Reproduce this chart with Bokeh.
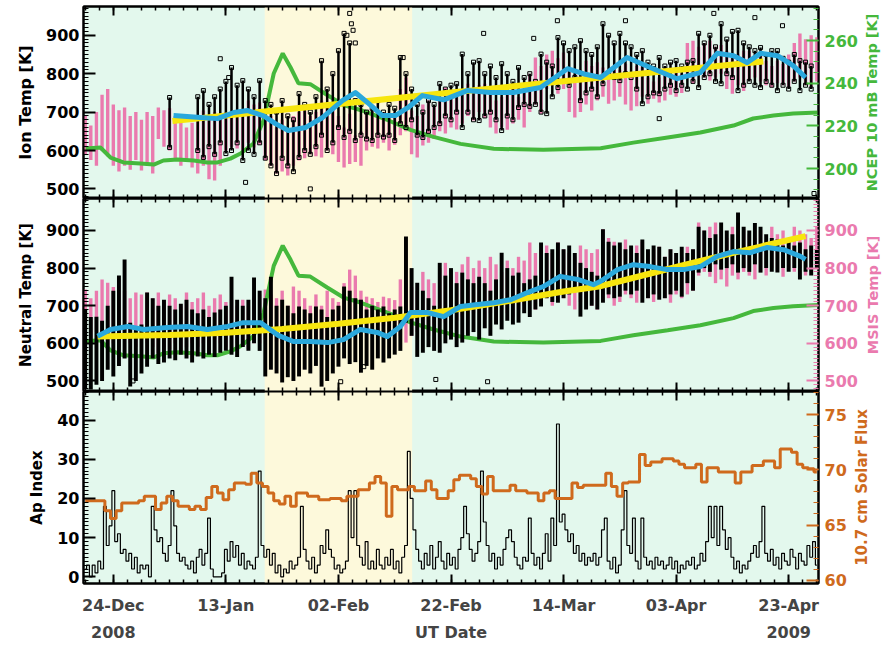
import numpy as np
from bokeh.plotting import figure
from bokeh.models import (Range1d, LinearAxis, FixedTicker, SingleIntervalTicker,
                          BoxAnnotation)
from bokeh.layouts import column, row
from bokeh.embed import file_html
from bokeh.resources import INLINE

# ---------------- data (x = days since 24-Dec-2008) ----------------
days = list(range(-5, 126))
tick_days = [0, 20, 40, 60, 80, 100, 120]
tick_labels = ["24-Dec", "13-Jan", "02-Feb", "22-Feb", "14-Mar", "03-Apr", "23-Apr"]
bottom_text_days = [0, 60, 120]
bottom_texts = ["2008", "UT Date", "2009"]
campaign_start, campaign_end = 26.9, 53.1

N = None
# Panel 1: modelled ion temperature (pink), daily range
ion_model_lo = [590,575,560,600,585,560,545,560,550,575,
                548,560,540,630,610,600,580,560,570,556,
                540,560,525,522,560,600,610,605,600,620,
                608,615,575,560,540,545,535,560,574,580,
                590,585,582,600,590,570,556,565,570,560,
                600,610,605,620,600,615,640,650,590,582,
                613,620,630,650,644,660,655,670,690,678,
                700,685,660,644,660,654,670,680,660,700,
                720,696,760,770,748,760,700,686,700,720,
                704,730,740,722,730,740,720,704,715,740,
                722,735,725,730,745,740,750,790,774,800,
                790,782,790,800,760,748,770,755,782,790,
                780,770,764,775,770,764,780,790,770,764,
                780]
ion_model_hi = [690,665,700,745,760,720,705,712,690,700,
                680,700,690,712,705,710,690,678,660,672,
                690,704,680,700,690,700,690,700,695,730,
                720,725,700,690,660,680,650,690,700,704,
                690,700,730,720,725,690,660,696,640,650,
                700,704,690,700,690,700,760,790,704,690,
                720,730,715,740,764,750,760,745,774,760,
                770,774,748,730,740,750,764,740,760,800,
                842,820,850,860,840,855,816,800,810,834,
                820,830,816,800,816,810,826,800,820,826,
                790,780,790,808,800,806,800,880,886,870,
                880,886,870,875,860,840,850,860,860,850,
                855,834,820,834,825,850,880,905,890,900,
                895]
# Panel 1: measured ion temperature (black), daily range
ion_lo = [N,N,N,N,N,N,N,N,N,N,
          N,N,N,N,N,608,N,N,N,N,
          600,582,610,590,620,592,600,620,574,600,
          590,620,580,560,540,580,560,545,582,600,
          590,610,640,600,620,660,634,650,626,640,
          630,626,640,635,640,626,670,660,680,640,
          634,650,660,670,690,680,700,660,700,680,
          678,690,700,680,652,690,680,712,720,715,
          720,700,696,740,764,780,770,790,730,750,
          760,740,774,800,790,782,800,790,760,722,
          740,750,748,760,770,756,770,760,780,764,
          790,800,780,774,800,790,756,770,780,770,
          764,780,770,756,770,760,780,756,770,760,
          N]
ion_hi = [N,N,N,N,N,N,N,N,N,N,
          N,N,N,N,N,738,N,N,N,N,
          740,756,720,740,760,780,816,770,782,760,
          740,782,730,720,700,730,690,680,748,720,
          700,740,834,760,800,860,905,880,730,720,
          700,710,730,700,720,710,842,800,760,720,
          700,730,720,774,760,770,774,851,800,830,
          834,800,820,790,826,800,780,816,790,800,
          780,851,830,820,894,880,860,870,886,860,
          850,870,930,900,880,905,880,870,850,860,
          830,820,842,820,830,834,820,830,834,905,
          880,900,870,930,890,910,913,880,870,860,
          868,850,860,860,840,830,850,834,830,820,
          N]
ion_out_day = [19.0, 20.5, 23.5, 35.0, 41.5, 42.0, 42.3, 42.6, 43.0, 51.5,
               65.8, 74.7, 78.9, 91.0, 97.0, 106.7, 114.0, 118.9, 124.5]
ion_out_T = [839, 790, 517, 500, 900, 957, 930, 913, 880, 842,
             905, 892, 938, 938, 683, 957, 946, 925, 488]
ion_fit_day = [10.5, 60.0, 115.5]
ion_fit_T = [677, 751, 832]
ion_smooth_day = [10.7, 15.5, 18.5, 21.4, 23.9, 26.7, 28.8, 31.1, 34.2, 37.2, 40.7, 43.0,
                  45.4, 47.8, 50.1, 52.4, 54.9, 58.7, 62.9, 67.0, 71.1, 75.9, 80.7, 83.5,
                  86.6, 91.3, 95.4, 100.2, 104.3, 107.3, 110.2, 112.6, 115.0, 118.0, 120.8, 123.0]
ion_smooth_T = [691, 686, 683, 699, 704, 690, 670, 652, 660, 686, 730, 751,
                722, 691, 691, 712, 743, 732, 756, 751, 751, 764, 813, 800,
                790, 842, 816, 787, 803, 853, 847, 829, 853, 847, 821, 790]
# NCEP 10 mB temperature (green)
ncep_day = [-4.9, -2.3, -0.5, 1.8, 4.8, 7.2, 8.9, 11.4, 14.3, 16.7, 18.5, 20.8, 22.6,
            24.9, 26.7, 28.5, 30.1, 31.5, 32.9, 35.0, 38.0, 40.9, 43.9, 48.7, 52.8,
            56.9, 61.7, 67.6, 76.4, 86.6, 92.4, 98.5, 104.3, 110.2, 113.7, 117.3, 120.8, 125.3]
ncep_T = [209.4, 209.9, 205.2, 202.9, 202.4, 201.9, 203.8, 204.3, 203.8, 202.9, 202.9, 204.7, 207.1,
          211.8, 222.6, 244.6, 254.0, 247.4, 240.0, 239.6, 234.5, 229.8, 227.5, 222.8, 218.2,
          214.9, 211.6, 209.3, 208.8, 209.6, 212.2, 214.6, 216.9, 220.2, 223.5, 224.9, 225.8, 226.3]

# Panel 2: measured neutral temperature (black), daily range
neu_lo = [480,477,490,500,530,512,540,560,485,500,
          520,538,560,545,549,560,555,570,560,549,
          565,560,570,564,575,580,570,564,590,580,
          600,580,512,530,520,496,510,500,512,530,
          520,540,485,500,520,538,560,545,550,522,
          540,530,560,549,560,570,580,655,620,564,
          575,590,580,575,600,610,590,602,620,630,
          610,640,620,650,637,660,650,655,680,670,
          690,698,720,710,708,720,730,740,671,690,
          700,690,708,730,720,724,740,730,740,708,
          720,730,716,720,730,740,724,760,740,788,
          800,790,810,796,800,810,788,800,790,810,
          788,800,790,788,800,790,800,770,790,780,
          800]
neu_hi = [690,670,671,660,700,740,780,823,655,640,
          650,735,720,700,716,700,690,705,716,690,
          680,690,670,682,690,700,777,716,700,716,
          775,740,720,777,700,716,700,680,698,690,
          680,698,690,670,690,700,751,740,720,716,
          690,700,690,698,680,690,698,884,800,761,
          740,720,700,814,780,800,760,788,770,760,
          777,760,740,770,841,800,780,788,760,770,
          780,868,840,850,868,850,860,840,814,800,
          790,780,903,870,860,868,850,860,840,876,
          850,860,857,830,850,840,857,840,850,910,
          900,880,890,921,900,890,948,910,900,920,
          910,890,880,876,860,870,860,868,850,860,
          850]
neu_out_day = [3.5, 40.4, 44.5, 57.3, 66.5]
neu_out_T = [500, 498, 538, 504, 498]
# Panel 2: MSIS temperature (pink), daily range
msis_lo = [620,610,630,600,591,600,591,610,600,591,
           610,600,590,575,590,585,600,575,590,600,
           591,600,595,610,600,591,575,600,590,585,
           600,600,610,620,605,600,590,600,610,590,
           600,610,590,600,620,600,640,637,660,650,
           640,660,650,645,655,640,620,602,620,630,
           640,620,650,660,655,670,660,671,690,680,
           690,663,680,700,690,680,670,690,700,720,
           690,710,720,700,730,720,700,690,710,720,
           700,690,730,720,700,710,730,720,708,740,
           720,710,730,720,708,730,720,730,740,780,
           790,777,760,770,751,780,770,790,780,770,
           790,780,800,790,777,800,790,800,780,790,
           800]
msis_hi = [743,720,740,770,761,750,770,740,720,735,
           730,735,720,735,710,730,720,700,735,710,
           720,735,700,720,730,710,716,700,716,700,
           720,730,743,730,720,740,700,751,740,720,
           700,730,700,740,720,710,760,796,780,740,
           724,720,710,724,720,715,770,760,750,740,
           790,770,760,800,814,780,790,810,830,800,
           820,800,830,810,790,820,800,830,820,868,
           840,850,860,840,868,850,840,830,860,850,
           840,850,903,880,870,860,876,850,860,870,
           840,850,857,830,850,840,830,857,850,921,
           900,910,921,900,880,910,890,903,890,880,
           900,870,910,890,900,880,910,900,890,880,
           910]
neu_fit_day = [-2.8, 10, 20, 30, 40, 50, 60, 70, 80, 86.6, 90, 100, 110, 123]
neu_fit_T = [618, 622, 628, 638, 652, 668, 688, 712, 738, 752, 765, 803, 840, 885]
neu_smooth_day = [-2.8, -0.5, 2.6, 5.4, 9.6, 13.2, 16.7, 20.3, 23.1, 26.2, 29.2, 32.0, 35.0,
                  38.1, 40.9, 43.9, 46.9, 48.7, 51.0, 52.8, 55.8, 58.7, 61.7, 64.7, 67.6,
                  70.6, 73.6, 76.4, 79.4, 82.5, 85.3, 86.6, 89.6, 92.4, 95.4, 98.4, 101.3,
                  104.3, 107.3, 110.2, 113.2, 116.2, 119.1, 122.1, 123.0]
neu_smooth_T = [619, 637, 645, 637, 642, 645, 637, 645, 655, 655, 622, 605, 605,
                602, 610, 637, 629, 618, 645, 682, 682, 671, 698, 703, 708,
                716, 735, 751, 778, 770, 756, 765, 796, 809, 804, 796, 796,
                804, 831, 844, 841, 855, 849, 831, 823]

# Panel 3: Ap index (12-hourly) and 10.7 cm solar flux (daily)
ap_start, ap_step = -5.0, 0.5
ap_index = [2,3,0,3,1,4,2,18,8,13,
            22,9,11,6,7,4,6,2,5,1,
            3,2,3,0,18,12,9,10,6,4,
            8,22,13,6,4,5,3,2,4,1,
            5,7,3,6,15,2,0,0,0,1,
            7,4,9,5,8,3,6,2,4,3,
            2,5,27,8,5,7,3,6,1,3,
            0,2,1,4,2,3,5,18,7,4,
            2,5,1,3,8,6,12,7,5,2,
            3,1,2,4,22,10,22,8,5,3,
            9,2,4,2,7,3,2,5,3,7,
            2,4,1,5,8,32,20,12,7,4,
            2,6,3,8,2,5,9,4,2,6,
            3,5,2,7,10,18,11,7,4,6,
            9,27,14,8,4,6,2,5,3,7,
            10,12,9,5,3,2,5,4,15,6,
            3,5,2,6,11,4,15,8,39,14,
            16,12,9,11,6,8,4,6,3,5,
            4,6,3,5,12,15,4,2,5,1,
            3,12,22,8,6,15,4,2,15,5,
            3,4,2,5,3,4,2,3,5,2,
            4,1,3,2,4,3,5,2,3,6,
            4,9,18,10,18,8,18,12,7,10,
            5,2,4,1,3,2,4,6,8,5,
            9,18,6,4,7,3,5,2,6,4,
            3,7,5,2,6,4,3,8,5,9,
            3]
solar_flux = [67.2,67.2,67.2,67.2,66.3,65.6,66.3,67.0,67.0,67.0,
              67.2,67.6,67.6,66.4,67.0,67.6,67.2,66.7,66.7,66.4,
              66.7,66.4,67.5,68.5,67.9,67.3,68.2,68.8,68.8,68.7,
              69.7,68.8,68.5,67.9,67.2,66.9,67.6,66.7,67.9,67.9,
              67.6,67.6,67.3,67.3,67.4,67.4,67.2,67.6,67.6,68.2,
              68.2,68.8,69.4,68.8,65.8,68.5,68.2,68.2,68.5,68.1,
              68.1,69.0,68.2,67.4,67.4,68.1,69.1,69.5,69.5,69.2,
              68.5,67.8,69.4,68.1,68.1,68.1,68.6,68.1,68.1,67.9,
              67.9,67.2,67.9,68.1,67.4,67.4,67.4,68.8,68.4,68.6,
              68.6,68.6,68.6,69.7,68.5,67.6,68.8,68.9,68.9,71.4,
              70.4,70.7,70.7,71.0,71.0,70.8,70.5,70.2,70.2,70.5,
              68.9,70.2,70.2,69.8,69.8,69.8,68.8,69.8,69.8,70.4,
              70.4,70.8,70.8,70.2,71.9,71.9,71.6,70.5,70.2,70.1,
              69.8]

# ---------------- styling ----------------
MINT = "#e3f8ed"
BAND = "#fdf9db"
PINK = "#ea7aae"
GREEN = "#45b83c"
CYAN = "#2aa8dc"
YELLOW = "#f7e60e"
ORANGE = "#cf6a1d"
FONT = "DejaVu Sans"
FS = "16px"

xr = Range1d(-5.3, 125.3)
minor_days = [-5 + 2.5 * i for i in range(53)]
overrides = {d: l for d, l in zip(tick_days, tick_labels)}


def make_fig(yr, fh, top, bottom, right):
    p = figure(frame_width=735, frame_height=fh, x_range=xr, y_range=yr,
               output_backend="svg", toolbar_location=None,
               x_axis_location=None, y_axis_location=None,
               min_border_left=83, min_border_right=right,
               min_border_top=top, min_border_bottom=bottom)
    p.background_fill_color = MINT
    p.border_fill_color = "white"
    p.outline_line_color = "black"
    p.outline_line_width = 2
    p.xgrid.visible = False
    p.ygrid.visible = False
    p.add_layout(BoxAnnotation(left=campaign_start, right=campaign_end,
                               fill_color=BAND, fill_alpha=1.0, line_color=None,
                               level="underlay"))
    return p


def label_fig(text, color, fs, fh, top, bottom, border, frame_w):
    # narrow companion figure whose left-axis title reads bottom-to-top
    q = figure(frame_width=frame_w, frame_height=fh, x_range=Range1d(0, 1), y_range=Range1d(0, 1),
               output_backend="svg", toolbar_location=None,
               x_axis_location=None, y_axis_location=None,
               min_border_left=border, min_border_right=0,
               min_border_top=top, min_border_bottom=bottom)
    q.outline_line_color = None
    q.background_fill_color = "white"
    q.border_fill_color = "white"
    q.xgrid.visible = False
    q.ygrid.visible = False
    ax = LinearAxis(ticker=FixedTicker(ticks=[], minor_ticks=[]))
    ax.axis_line_color = None
    ax.major_tick_line_color = None
    ax.minor_tick_line_color = None
    ax.major_tick_in = 0
    ax.major_tick_out = 0
    ax.minor_tick_in = 0
    ax.minor_tick_out = 0
    ax.major_label_text_font_size = "0px"
    ax.major_label_text_color = None
    ax.major_label_standoff = 0
    ax.axis_label = text
    ax.axis_label_standoff = 0
    ax.axis_label_text_color = color
    ax.axis_label_text_font = FONT
    ax.axis_label_text_font_style = "bold"
    ax.axis_label_text_font_size = fs
    q.add_layout(ax, "left")
    return q


def x_axis(show):
    ax = LinearAxis(ticker=FixedTicker(ticks=tick_days, minor_ticks=minor_days))
    ax.major_label_overrides = overrides
    ax.major_tick_in = 9
    ax.major_tick_out = 0
    ax.minor_tick_in = 4
    ax.minor_tick_out = 0
    ax.axis_line_width = 2
    ax.major_tick_line_width = 2
    ax.minor_tick_line_width = 1.5
    if show:
        ax.major_label_text_font = FONT
        ax.major_label_text_font_style = "bold"
        ax.major_label_text_font_size = FS
        ax.major_label_standoff = 12
    else:
        ax.major_label_text_font_size = "0px"
        ax.major_label_text_color = None
        ax.major_label_standoff = 0
    return ax


def text_axis():
    ax = LinearAxis(ticker=FixedTicker(ticks=bottom_text_days, minor_ticks=[]))
    ax.major_label_overrides = {d: t for d, t in zip(bottom_text_days, bottom_texts)}
    ax.axis_line_color = None
    ax.major_tick_line_color = None
    ax.minor_tick_line_color = None
    ax.major_tick_in = 0
    ax.major_tick_out = 0
    ax.major_label_text_font = FONT
    ax.major_label_text_font_style = "bold"
    ax.major_label_text_font_size = FS
    ax.major_label_standoff = 5
    return ax


def y_axis(label, interval, nminor, color, range_name=None, lab_fs="15px", standoff=8):
    kw = {"y_range_name": range_name} if range_name else {}
    ax = LinearAxis(ticker=SingleIntervalTicker(interval=interval, num_minor_ticks=nminor), **kw)
    if label:
        ax.axis_label = label
        ax.axis_label_text_color = color
        ax.axis_label_text_font = FONT
        ax.axis_label_text_font_style = "bold"
        ax.axis_label_text_font_size = lab_fs
        ax.axis_label_standoff = standoff
    ax.major_label_text_color = color
    ax.major_label_text_font = FONT
    ax.major_label_text_font_style = "bold"
    ax.major_label_text_font_size = FS
    ax.major_label_standoff = 6 if range_name else 4
    ax.major_tick_in = 12
    ax.major_tick_out = 0
    ax.minor_tick_in = 5
    ax.minor_tick_out = 0
    ax.axis_line_color = "black"
    ax.axis_line_width = 2
    ax.major_tick_line_color = color
    ax.minor_tick_line_color = color
    ax.major_tick_line_width = 2
    ax.minor_tick_line_width = 1.2
    return ax


# ---------------- panel 1 ----------------
p1 = make_fig(Range1d(475, 975), 192, 6, 0, 40)
p1.extra_y_ranges = {"ncep": Range1d(186, 276)}
p1.add_layout(x_axis(False), "above")
p1.add_layout(x_axis(False), "below")
p1.add_layout(y_axis("Ion Temp [K]", 100, 10, "black", lab_fs="16px"), "left")
p1.add_layout(y_axis(None, 20, 4, GREEN, "ncep"), "right")

p1.vbar(x=days, bottom=np.array(ion_model_lo, float), top=np.array(ion_model_hi, float),
        width=0.6, fill_color=PINK, line_color=None)
p1.line(ncep_day, ncep_T, y_range_name="ncep", line_color=GREEN, line_width=4)
ilo = np.array(ion_lo, dtype=float)
ihi = np.array(ion_hi, dtype=float)
p1.segment(x0=days, y0=ilo, x1=days, y1=ihi, line_color="black", line_width=2.5)
p1.scatter(days, ilo, marker="square", size=4, fill_color=None, line_color="black", line_width=1)
p1.scatter(days, ihi, marker="square", size=4, fill_color=None, line_color="black", line_width=1)
p1.scatter(ion_out_day, ion_out_T, marker="square", size=4, fill_color=None,
           line_color="black", line_width=1)
p1.line(ion_fit_day, ion_fit_T, line_color=YELLOW, line_width=6)
p1.line(ion_smooth_day, ion_smooth_T, line_color=CYAN, line_width=5, line_join="round")
q1 = label_fig("NCEP 10 mB Temp [K]", GREEN, "14.5px", 192, 6, 0, 19, 15)

# ---------------- panel 2 ----------------
p2 = make_fig(Range1d(472, 985), 193, 0, 0, 40)
p2.extra_y_ranges = {"msis": Range1d(472, 985), "ncep": Range1d(186, 276)}
p2.add_layout(x_axis(False), "above")
p2.add_layout(x_axis(False), "below")
p2.add_layout(y_axis("Neutral Temp [K]", 100, 10, "black"), "left")
p2.add_layout(y_axis(None, 100, 10, PINK, "msis"), "right")

p2.vbar(x=days, bottom=msis_lo, top=msis_hi, width=0.6, y_range_name="msis",
        fill_color=PINK, line_color=None)
p2.line(ncep_day, ncep_T, y_range_name="ncep", line_color=GREEN, line_width=4)
p2.vbar(x=days, bottom=neu_lo, top=neu_hi, width=0.7, fill_color="black", line_color=None)
p2.scatter(neu_out_day, neu_out_T, marker="square", size=4, fill_color=None,
           line_color="black", line_width=1)
p2.line(neu_fit_day, neu_fit_T, line_color=YELLOW, line_width=6)
p2.line(neu_smooth_day, neu_smooth_T, line_color=CYAN, line_width=5, line_join="round")
q2 = label_fig("MSIS Temp [K]", PINK, "14.5px", 193, 0, 0, 20, 14)

# ---------------- panel 3 ----------------
p3 = make_fig(Range1d(-1.7, 47.3), 192, 0, 64, 30)
p3.extra_y_ranges = {"flux": Range1d(59.7, 77.1)}
p3.add_layout(x_axis(False), "above")
p3.add_layout(x_axis(True), "below")
p3.add_layout(text_axis(), "below")
p3.add_layout(y_axis("Ap Index", 10, 10, "black"), "left")
p3.add_layout(y_axis(None, 5, 5, ORANGE, "flux"), "right")

ap_days = [ap_start + ap_step * i for i in range(len(ap_index))]
p3.step(ap_days, ap_index, mode="center", line_color="black", line_width=1.2)
p3.step(days, solar_flux, mode="center", y_range_name="flux", line_color=ORANGE, line_width=3)
q3 = label_fig("10.7 cm Solar Flux", ORANGE, "15px", 192, 0, 64, 19, 25)

layout = column(row(p1, q1, spacing=0), row(p2, q2, spacing=0), row(p3, q3, spacing=0), spacing=0)
open("out.html", "w").write(file_html(layout, INLINE))
